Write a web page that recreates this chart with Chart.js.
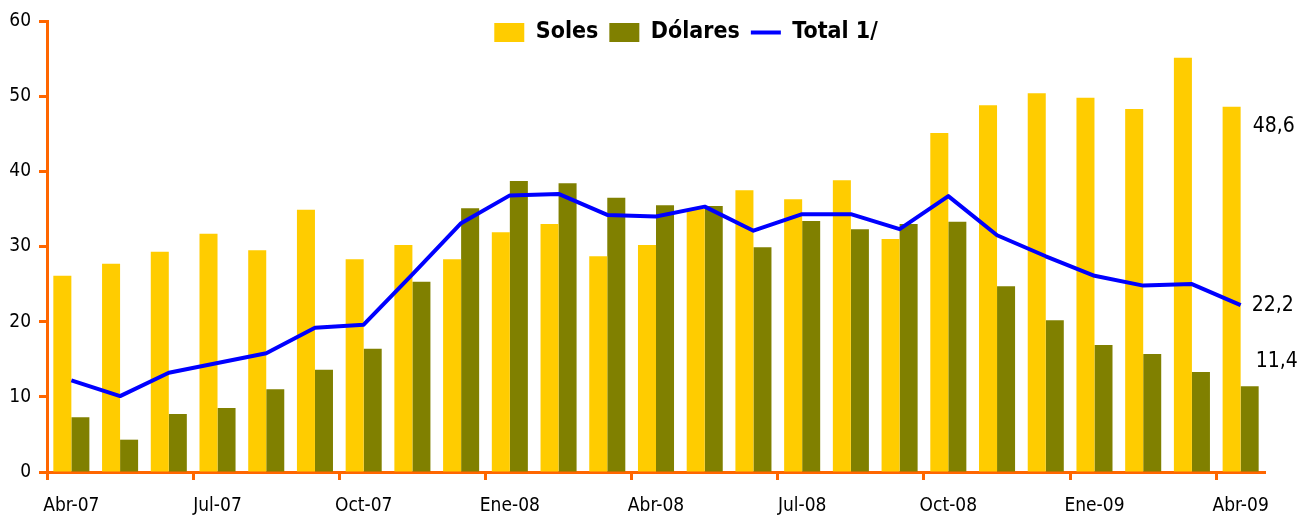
<!DOCTYPE html>
<html>
<head>
<meta charset="utf-8">
<script src="https://cdn.jsdelivr.net/npm/chart.js@4"></script>
<style>
html,body{margin:0;padding:0;background:#fff;}
canvas{display:block;}
</style>
</head>
<body>
<canvas id="c" width="1300" height="516"></canvas>
<script>
const categories = ['Abr-07','May-07','Jun-07','Jul-07','Ago-07','Set-07','Oct-07','Nov-07','Dic-07',
  'Ene-08','Feb-08','Mar-08','Abr-08','May-08','Jun-08','Jul-08','Ago-08','Set-08','Oct-08','Nov-08','Dic-08',
  'Ene-09','Feb-09','Mar-09','Abr-09'];
const soles = [26.1, 27.7, 29.3, 31.7, 29.5, 34.9, 28.3, 30.2, 28.3, 31.9, 33.0, 28.7, 30.2, 35.0, 37.5, 36.3, 38.8, 31.0, 45.1, 48.8, 50.4, 49.8, 48.3, 55.1, 48.6];
const dolares = [7.3, 4.3, 7.7, 8.5, 11.0, 13.6, 16.4, 25.3, 35.1, 38.7, 38.4, 36.5, 35.5, 35.4, 29.9, 33.4, 32.3, 33.0, 33.3, 24.7, 20.2, 16.9, 15.7, 13.3, 11.4];
const total = [12.2, 10.1, 13.2, 14.5, 15.8, 19.2, 19.6, 26.3, 33.1, 36.8, 37.0, 34.2, 34.0, 35.3, 32.1, 34.3, 34.3, 32.3, 36.7, 31.5, 28.7, 26.1, 24.8, 25.0, 22.2];
const yTicks = [0, 10, 20, 30, 40, 50, 60];

const ORANGE = '#FF6600';
const FONT = '"DejaVu Sans Condensed", "DejaVu Sans", sans-serif';

const legendShift = {
  id: 'legendShift',
  beforeDraw(chart) {
    const lg = chart.legend;
    if (!lg) return;
    const targetCenter = 686;
    lg.left = 2 * targetCenter - lg.right;
    lg.top = 10;
    lg.bottom = 60;
    lg.height = 50;
  }
};

const endLabels = {
  id: 'endLabels',
  afterDatasetsDraw(chart) {
    const ctx = chart.ctx;
    const y = chart.scales.y;
    const last = categories.length - 1;
    const xC = chart.scales.x.getPixelForValue(last);
    const fmt = v => v.toFixed(1).replace('.', ',');
    ctx.save();
    ctx.font = '21px ' + FONT;
    ctx.fillStyle = '#000';
    ctx.textAlign = 'left';
    ctx.textBaseline = 'middle';
    ctx.fillText(fmt(soles[last]), xC + 12, y.getPixelForValue(soles[last]) + 20);
    ctx.fillText(fmt(total[last]), xC + 11, y.getPixelForValue(total[last]));
    ctx.fillText(fmt(dolares[last]), xC + 15, y.getPixelForValue(dolares[last]) - 25);
    ctx.restore();
  }
};

new Chart(document.getElementById('c'), {
  type: 'bar',
  data: {
    labels: categories,
    datasets: [
      { label: 'Soles', data: soles, backgroundColor: '#FFCC00', borderWidth: 0, pointStyle: 'rect', order: 1,
        categoryPercentage: 0.74, barPercentage: 1.0 },
      { label: 'Dólares', data: dolares, backgroundColor: '#808000', borderWidth: 0, pointStyle: 'rect', order: 1,
        categoryPercentage: 0.74, barPercentage: 1.0 },
      { type: 'line', label: 'Total 1/', data: total, borderColor: '#0000FF', backgroundColor: '#0000FF',
        borderWidth: 4, pointRadius: 0, pointStyle: 'line', tension: 0, fill: false, order: 0,
        borderJoinStyle: 'round' }
    ]
  },
  options: {
    responsive: false,
    animation: false,
    devicePixelRatio: 1,
    layout: { padding: { top: 21, right: 35, bottom: 0, left: 0 } },
    plugins: {
      tooltip: { enabled: false },
      legend: {
        position: 'top',
        align: 'center',
        maxHeight: 0.001,
        labels: {
          usePointStyle: true,
          pointStyleWidth: 30,
          boxHeight: 19,
          padding: 11,
          color: '#000',
          font: { family: FONT, size: 23, weight: 'bold' },
          sort: (a, b) => a.datasetIndex - b.datasetIndex
        }
      }
    },
    scales: {
      x: {
        z: 1,
        offset: true,
        afterFit: s => { s.height = 44; },
        border: { display: true, color: ORANGE, width: 3 },
        grid: {
          offset: true,
          drawOnChartArea: false,
          drawTicks: true,
          tickLength: 8,
          tickWidth: 3,
          tickColor: c => (c.index !== undefined && c.index % 3 === 0) ? ORANGE : 'rgba(0,0,0,0)'
        },
        ticks: {
          autoSkip: false,
          maxRotation: 0,
          minRotation: 0,
          padding: 15,
          color: '#000',
          font: { family: FONT, size: 19 },
          callback: (v, i) => (i % 3 === 0 ? categories[i] : '')
        }
      },
      y: {
        z: 1,
        min: 0,
        max: 60,
        afterFit: s => { s.width = 47; },
        afterBuildTicks: s => { s.ticks = yTicks.map(v => ({ value: v })); },
        border: { display: true, color: ORANGE, width: 3 },
        grid: {
          drawOnChartArea: false,
          drawTicks: true,
          tickLength: 8,
          tickWidth: 3,
          tickColor: ORANGE
        },
        ticks: {
          padding: 8,
          color: '#000',
          font: { family: FONT, size: 19 }
        }
      }
    }
  },
  plugins: [legendShift, endLabels]
});
</script>
</body>
</html>
